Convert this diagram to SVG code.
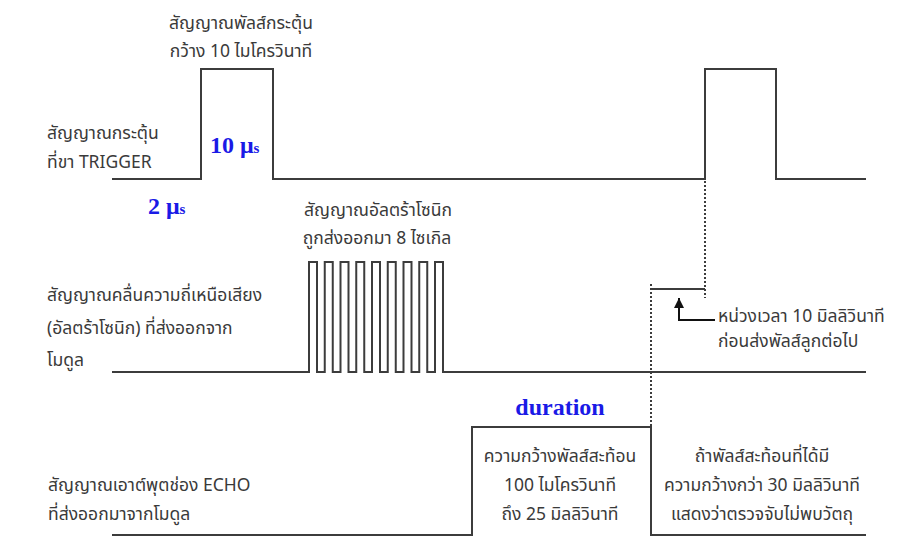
<svg xmlns="http://www.w3.org/2000/svg" width="915" height="537" viewBox="0 0 915 537">
<defs>
<style>
.sig{fill:none;stroke:#3c3c3c;stroke-width:2;stroke-linejoin:miter}
.dot{fill:none;stroke:#3c3c3c;stroke-width:2;stroke-dasharray:2 2}
.th{font-family:'Noto Sans Thai',Tahoma,'Liberation Sans',sans-serif;font-size:17.5px;fill:#3a3a3a}
.c{text-anchor:middle}
.bl{font-family:'Liberation Serif','Times New Roman',serif;font-weight:bold;fill:#1a1ae6}
</style>
<marker id="ah" viewBox="0 0 10 10" refX="10" refY="5" markerWidth="10" markerHeight="10" markerUnits="userSpaceOnUse" orient="auto">
<path d="M0,0 L10,5 L0,10 Z" fill="#111"/>
</marker>
</defs>
<rect width="915" height="537" fill="#fff"/>

<g id="trigger">
<path class="sig" d="M112,179 H201 V69 H273 V179 H705 V69 H776 V179 H866"/>
<text class="th" x="47" y="139">สัญญาณกระตุ้น</text>
<text class="th" x="47" y="168">ที่ขา TRIGGER</text>
<text class="th c" x="241" y="29">สัญญาณพัลส์กระตุ้น</text>
<text class="th c" x="241" y="57">กว้าง 10 ไมโครวินาที</text>
<text class="bl" x="210" y="153" font-size="24">10 μ<tspan font-size="15">s</tspan></text>
<text class="bl" x="148" y="214" font-size="24">2 μ<tspan font-size="15">s</tspan></text>
</g>

<g id="ultrasonic">
<path class="sig" d="M112,372 H309 V262 H317 V372 H324.75 V262 H332.75 V372 H340.5 V262 H348.5 V372 H356.25 V262 H364.25 V372 H372 V262 H380 V372 H387.75 V262 H395.75 V372 H403.5 V262 H411.5 V372 H419.25 V262 H427.25 V372 H435 V262 H443 V372 H866"/>
<text class="th" x="47" y="301">สัญญาณคลื่นความถี่เหนือเสียง</text>
<text class="th" x="47" y="334">(อัลตร้าโซนิก) ที่ส่งออกจาก</text>
<text class="th" x="47" y="366">โมดูล</text>
<text class="th c" x="378" y="216">สัญญาณอัลตร้าโซนิก</text>
<text class="th c" x="377" y="244">ถูกส่งออกมา 8 ไซเกิล</text>
</g>

<g id="echo">
<path class="sig" d="M112,535 H472 V427 H651 V535 H866"/>
<text class="th" x="48" y="491">สัญญาณเอาต์พุตช่อง ECHO</text>
<text class="th" x="48" y="520">ที่ส่งออกมาจากโมดูล</text>
<text class="bl c" x="560" y="415" font-size="24">duration</text>
<text class="th c" x="560" y="462">ความกว้างพัลส์สะท้อน</text>
<text class="th c" x="560" y="491">100 ไมโครวินาที</text>
<text class="th c" x="560" y="520">ถึง 25 มิลลิวินาที</text>
<text class="th c" x="762" y="462">ถ้าพัลส์สะท้อนที่ได้มี</text>
<text class="th c" x="762" y="491">ความกว้างกว่า 30 มิลลิวินาที</text>
<text class="th c" x="762" y="520">แสดงว่าตรวจจับไม่พบวัตถุ</text>
</g>

<g id="delay-note">
<text class="th" x="718" y="322">หน่วงเวลา 10 มิลลิวินาที</text>
<text class="th" x="718" y="347">ก่อนส่งพัลส์ลูกต่อไป</text>
</g>

<g id="connectors">
<path class="dot" d="M705,181 V298"/>
<path class="dot" d="M651,284 V427"/>
<path class="sig" d="M651,289 H705"/>
<path fill="none" stroke="#111" stroke-width="2" d="M715,320 H679 V298" marker-end="url(#ah)"/>
</g>
</svg>
